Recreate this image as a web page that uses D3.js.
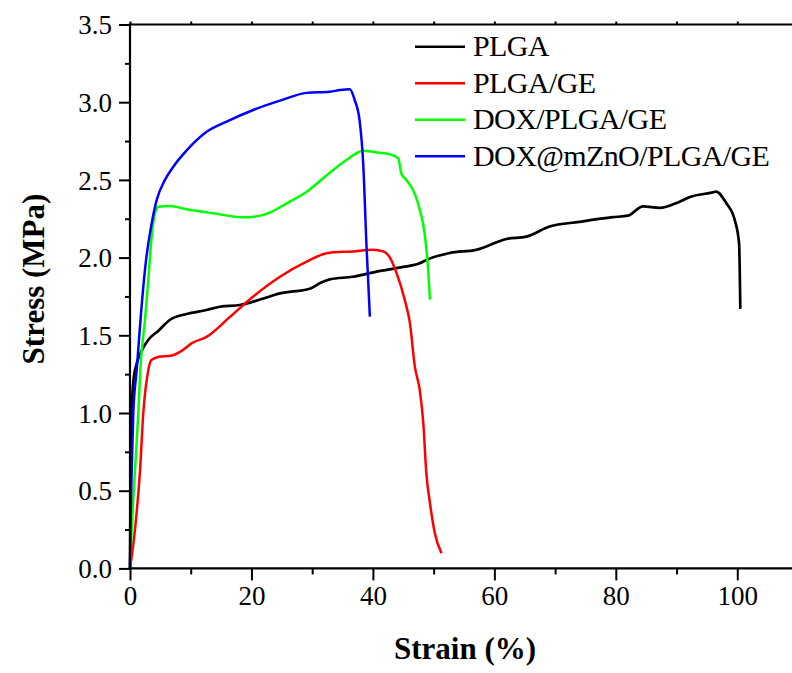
<!DOCTYPE html>
<html>
<head>
<meta charset="utf-8">
<script src="https://cdn.jsdelivr.net/npm/d3@7"></script>
<style>
  body { margin: 0; background: #fff; }
  svg { display: block; font-family: "Liberation Serif", "Times New Roman", serif; }
</style>
</head>
<body>
<svg id="chart" width="792" height="673"></svg>
<script>
// series names, colours and values (strain %, stress MPa)
var seriesNames = ["PLGA", "PLGA/GE", "DOX/PLGA/GE", "DOX@mZnO/PLGA/GE"];
var seriesColors = ["#000000", "#ff0000", "#00ff00", "#0000ff"];

var plga = [[0,0],[0.1,0.55],[0.28,1.0],[0.6,1.22],[1.2,1.33],[1.9,1.40],[3.0,1.47],[4.7,1.53],[6.6,1.60],
  [9.3,1.637],[12.6,1.663],[14.8,1.684],[18.1,1.695],[21.4,1.73],[24.7,1.77],[29.6,1.80],[31.5,1.84],
  [32.9,1.86],[36.7,1.877],[40.6,1.91],[45.0,1.94],[47.7,1.963],[48.8,1.985],[52.7,2.03],[57.0,2.05],
  [62.0,2.12],[65.3,2.135],[69.1,2.20],[74.0,2.23],[79.5,2.26],[82.0,2.27],[84.5,2.33],[87.2,2.32],
  [90.5,2.36],[92.2,2.39],[96.0,2.42],[96.5,2.425],[98.2,2.35],[99.6,2.24],[100.3,2.09],[100.5,1.67]];

var plgaGe = [[0,0],[0.82,0.25],[1.65,0.63],[2.19,1.0],[2.9,1.25],[3.5,1.34],[4.6,1.36],[6.9,1.37],
  [8.5,1.40],[10.2,1.45],[12.6,1.49],[16.5,1.62],[20.3,1.75],[24.7,1.877],[29.1,1.974],[32.6,2.03],
  [36.7,2.04],[40.0,2.05],[41.7,2.04],[42.8,2.0],[43.9,1.90],[45.25,1.727],[46.1,1.577],[46.9,1.30],
  [47.7,1.15],[48.3,0.934],[48.8,0.612],[49.4,0.419],[50.2,0.226],[51.3,0.097]];

var doxPlgaGe = [[0,0],[0.28,0.25],[0.82,0.63],[1.37,1.0],[1.7,1.28],[2.47,1.60],[3.01,1.856],[3.57,2.135],
  [4.11,2.285],[4.66,2.327],[6.58,2.332],[9.33,2.311],[13.7,2.285],[18.64,2.259],[21.5,2.27],[23.0,2.289],
  [25.8,2.349],[29.1,2.424],[32.4,2.53],[35.7,2.63],[38.4,2.688],[40.9,2.675],[42.2,2.67],[44.15,2.64],
  [44.7,2.54],[45.5,2.50],[46.9,2.41],[47.7,2.31],[48.5,2.16],[49.1,1.92],[49.4,1.73]];

var doxZnoPlgaGe = [[0,0],[0.1,0.3],[0.28,0.63],[0.54,1.0],[1.1,1.277],[1.27,1.362],[1.81,1.64],[2.58,1.963],
  [3.57,2.22],[4.39,2.37],[5.76,2.50],[7.13,2.585],[9.33,2.69],[12.62,2.81],[15.91,2.875],[20.3,2.95],
  [24.7,3.01],[29.1,3.06],[32.9,3.067],[34.6,3.078],[36.2,3.083],[37.0,3.014],[37.8,2.885],[38.4,2.607],
  [38.95,2.07],[39.5,1.62]];

var xTicks = [0, 20, 40, 60, 80, 100];
var xMinor = [10, 30, 50, 70, 90];
var yTicks = [0, 0.5, 1.0, 1.5, 2.0, 2.5, 3.0, 3.5];
var yMinor = [0.25, 0.75, 1.25, 1.75, 2.25, 2.75, 3.25];

var allSeries = [plga, plgaGe, doxPlgaGe, doxZnoPlgaGe];

var svg = d3.select("#chart");
var plotLeft = 130, plotRight = 798, plotTop = 24.5, plotBottom = 568.4;

var x = d3.scaleLinear().domain([0, 110]).range([plotLeft, plotRight]);
var y = d3.scaleLinear().domain([0, 3.5]).range([plotBottom, plotTop]);

svg.append("rect").attr("width", 792).attr("height", 673).attr("fill", "#fff");

// curves
var line = d3.line()
  .curve(d3.curveMonotoneX)
  .x(function(d) { return x(d[0]); })
  .y(function(d) { return y(d[1]); });

svg.selectAll(".curve")
  .data(allSeries)
  .enter().append("path")
  .attr("class", "curve")
  .attr("d", line)
  .attr("fill", "none")
  .attr("stroke", function(d, i) { return seriesColors[i]; })
  .attr("stroke-width", function(d, i) { return i == 0 ? 2.7 : 2.5; })
  .attr("stroke-linejoin", "round");

// axes
function styleAxis(g) {
  g.select(".domain").remove();
  g.selectAll(".tick line").attr("stroke", "#000").attr("stroke-width", 2);
  g.selectAll("text").attr("font-size", 27).attr("fill", "#000")
    .attr("font-family", "'Liberation Serif', 'Times New Roman', serif");
}

var xAxis = svg.append("g").attr("transform", "translate(0," + plotBottom + ")")
  .call(d3.axisBottom(x).tickValues(xTicks).tickSize(12).tickPadding(9).tickFormat(d3.format("d")));
styleAxis(xAxis);
xAxis.selectAll("text").attr("dy", "0.71em").attr("y", 17);

var xAxisMinor = svg.append("g").attr("transform", "translate(0," + plotBottom + ")")
  .call(d3.axisBottom(x).tickValues(xMinor).tickSize(6).tickFormat(""));
styleAxis(xAxisMinor);

var xTop = svg.append("g").attr("transform", "translate(0," + plotTop + ")")
  .call(d3.axisTop(x).tickValues(xTicks.concat(xMinor)).tickSize(3).tickFormat(""));
styleAxis(xTop);

var yAxis = svg.append("g").attr("transform", "translate(" + plotLeft + ",0)")
  .call(d3.axisLeft(y).tickValues(yTicks).tickSize(11).tickPadding(7).tickFormat(d3.format(".1f")));
styleAxis(yAxis);
yAxis.selectAll("text").attr("dy", "0.34em");

var yAxisMinor = svg.append("g").attr("transform", "translate(" + plotLeft + ",0)")
  .call(d3.axisLeft(y).tickValues(yMinor).tickSize(5).tickFormat(""));
styleAxis(yAxisMinor);

// frame lines
svg.append("line").attr("x1", plotLeft - 1).attr("x2", plotRight).attr("y1", plotBottom).attr("y2", plotBottom)
  .attr("stroke", "#000").attr("stroke-width", 2.2);
svg.append("line").attr("x1", plotLeft - 1).attr("x2", plotRight).attr("y1", plotTop).attr("y2", plotTop)
  .attr("stroke", "#000").attr("stroke-width", 2.2);
svg.append("line").attr("x1", plotLeft).attr("x2", plotLeft).attr("y1", plotTop - 1).attr("y2", plotBottom + 1)
  .attr("stroke", "#000").attr("stroke-width", 2.2);

// axis titles
svg.append("text")
  .attr("x", 465).attr("y", 659)
  .attr("text-anchor", "middle")
  .attr("font-size", 31).attr("font-weight", "bold")
  .text("Strain (%)");

svg.append("text")
  .attr("transform", "translate(44,279) rotate(-90)")
  .attr("text-anchor", "middle")
  .attr("font-size", 31).attr("font-weight", "bold")
  .text("Stress (MPa)");

// legend
var legend = svg.append("g").attr("transform", "translate(415,46.7)");
var item = legend.selectAll(".item")
  .data(seriesNames)
  .enter().append("g")
  .attr("class", "item")
  .attr("transform", function(d, i) { return "translate(0," + (i * 36.5) + ")"; });
item.append("line")
  .attr("x1", 0).attr("x2", 50).attr("y1", 0).attr("y2", 0)
  .attr("stroke", function(d, i) { return seriesColors[i]; })
  .attr("stroke-width", 2.4);
item.append("text")
  .attr("x", 58).attr("y", 9.5)
  .attr("font-size", 30).attr("letter-spacing", -0.6)
  .text(function(d) { return d; });
</script>
</body>
</html>
